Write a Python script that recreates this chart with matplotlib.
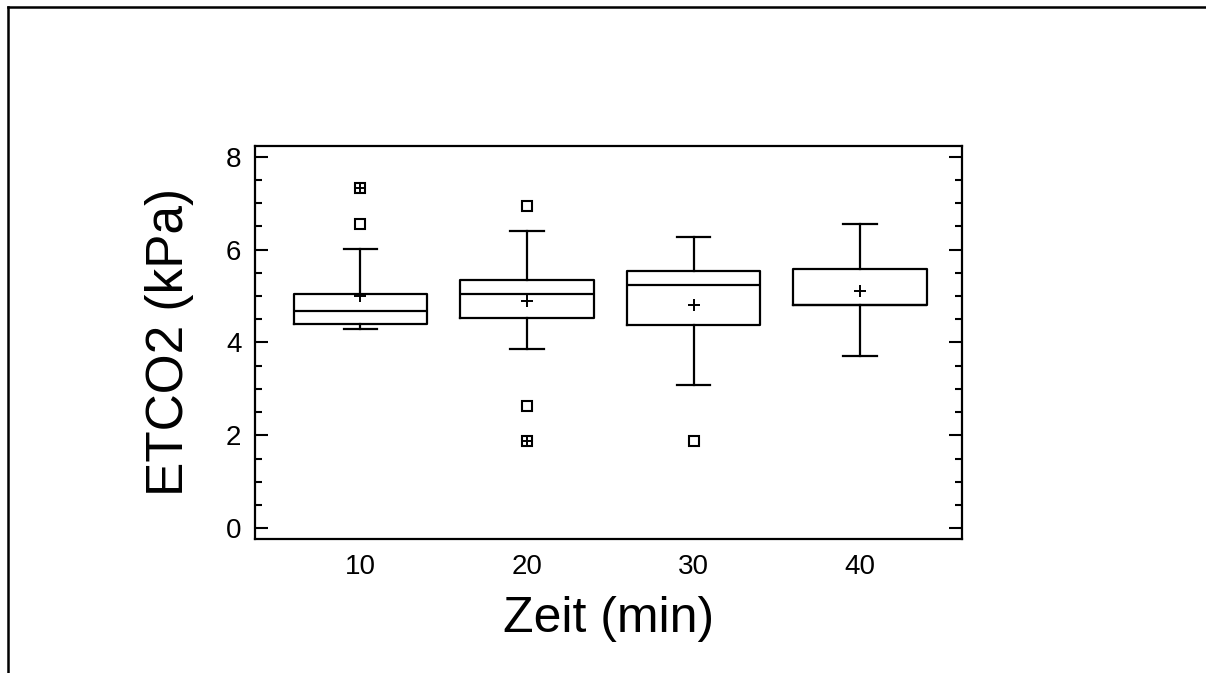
import matplotlib.pyplot as plt
from matplotlib.lines import Line2D

plt.rcParams['font.family'] = ['Liberation Sans', 'DejaVu Sans']

zeit = ["10", "20", "30", "40"]
q1 = [4.39, 4.52, 4.38, 4.81]
median = [4.67, 5.05, 5.24, 4.81]
q3 = [5.05, 5.34, 5.53, 5.58]
whisker_lo = [4.28, 3.85, 3.09, 3.70]
whisker_hi = [6.02, 6.40, 6.26, 6.54]
mean = [4.99, 4.89, 4.80, 5.10]
# outside points (plain squares) and far outside points (squares with a plus)
outside = [[6.55, 7.32], [6.94, 2.64, 1.88], [1.88], []]
far_outside = [[7.32], [1.88], [], []]

fig = plt.figure(figsize=(12.06, 6.73), dpi=100)
ax = fig.add_axes([0.2117, 0.1991, 0.5858, 0.5840])

stats = []
for i in range(len(zeit)):
    stats.append({"label": zeit[i], "q1": q1[i], "med": median[i], "q3": q3[i],
                  "whislo": whisker_lo[i], "whishi": whisker_hi[i],
                  "mean": mean[i], "fliers": outside[i]})

lw = 1.6
pos = list(range(len(zeit)))
ax.bxp(stats, positions=pos, widths=0.8, capwidths=0.2, showmeans=True,
       boxprops=dict(color="black", linewidth=lw),
       medianprops=dict(color="black", linewidth=lw),
       whiskerprops=dict(color="black", linewidth=lw),
       capprops=dict(color="black", linewidth=lw),
       meanprops=dict(marker="+", markersize=9, markeredgecolor="black",
                      markeredgewidth=1.4),
       flierprops=dict(marker="s", markersize=7, markerfacecolor="white",
                       markeredgecolor="black", markeredgewidth=1.5))

for i in range(len(zeit)):
    for v in far_outside[i]:
        ax.plot(pos[i], v, marker="+", markersize=9, color="black",
                markeredgewidth=1.4, linestyle="none")

ax.set_xlim(-0.63, 3.61)
ax.set_ylim(-0.23, 8.23)
ax.set_yticks([0, 2, 4, 6, 8])
ax.set_yticks([0.5, 1, 1.5, 2.5, 3, 3.5, 4.5, 5, 5.5, 6.5, 7, 7.5], minor=True)
ax.set_xticks(pos)
ax.set_xticklabels(zeit)

ax.tick_params(axis="y", which="both", direction="in", right=True, width=1.5,
               labelsize=20, pad=10)
ax.tick_params(axis="y", which="major", length=9.5)
ax.tick_params(axis="y", which="minor", length=5)
ax.tick_params(axis="x", length=0, labelsize=20, pad=11)
for s in ax.spines.values():
    s.set_linewidth(1.6)

ax.set_xlabel("Zeit (min)", fontsize=36, labelpad=11)
ax.set_ylabel("ETCO2 (kPa)", fontsize=37, labelpad=23)

# outer frame, only the left and top edges show
fig.add_artist(Line2D([7.5 / 1206, 7.5 / 1206], [0, 1 - 6.5 / 673],
                      transform=fig.transFigure, color="black", linewidth=1.8))
fig.add_artist(Line2D([7.5 / 1206, 1], [1 - 6.5 / 673, 1 - 6.5 / 673],
                      transform=fig.transFigure, color="black", linewidth=1.8))

fig.savefig("out.png", dpi=100)
